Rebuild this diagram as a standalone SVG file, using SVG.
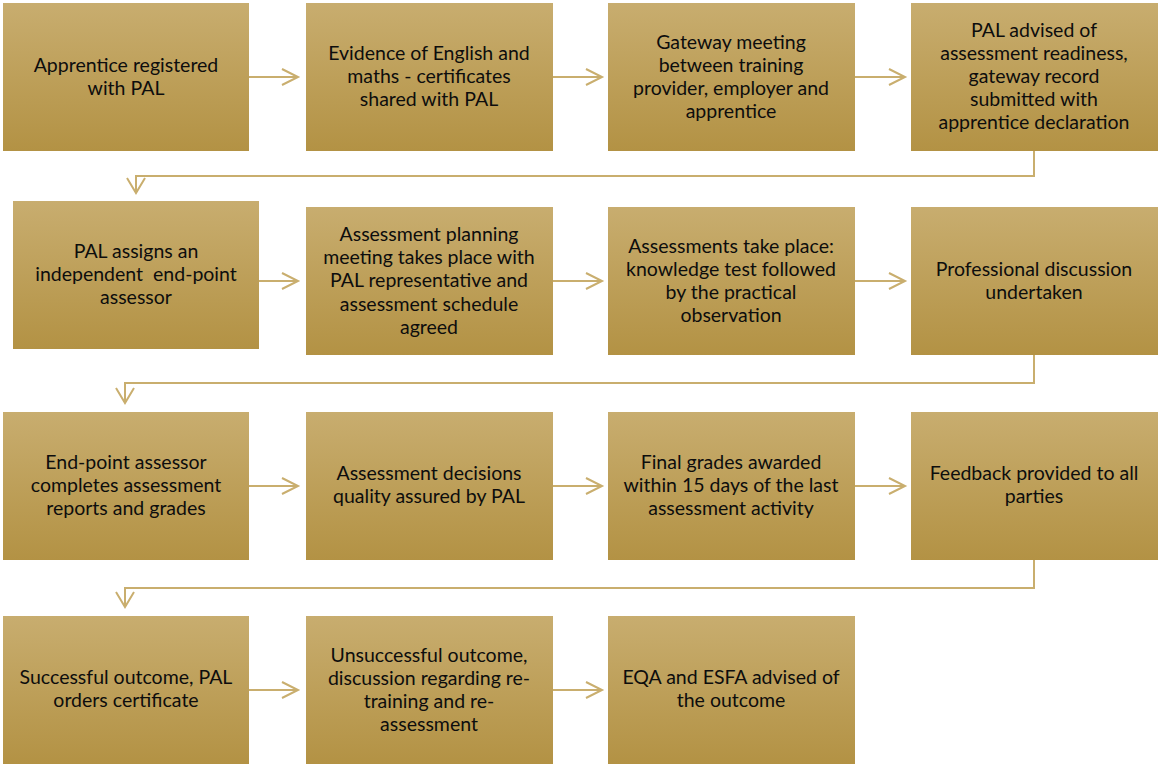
<svg xmlns="http://www.w3.org/2000/svg" width="1160" height="764" viewBox="0 0 1160 764">
<defs>
<linearGradient id="g" x1="0" y1="0" x2="0" y2="1">
<stop offset="0" stop-color="#C8AD6F"/>
<stop offset="1" stop-color="#B39244"/>
</linearGradient>
</defs>
<style>
.box{fill:url(#g)}
.t{font-family:Lato,"Open Sans",sans-serif;font-size:19.5px;fill:#0d0d0d;text-anchor:middle}
.c{fill:none;stroke:#C9AE6E;stroke-width:2}
</style>
<rect width="1160" height="764" fill="#fff"/>
<g id="connectors">
<path class="c" d="M249 77H298M282 69L298 77L282 85"/>
<path class="c" d="M553 77H602M586 69L602 77L586 85"/>
<path class="c" d="M855 77H905M889 69L905 77L889 85"/>
<path class="c" d="M1034 151V176H136V193M127 178L136 193L145 178"/>
<path class="c" d="M259 281H298M282 273L298 281L282 289"/>
<path class="c" d="M553 281H602M586 273L602 281L586 289"/>
<path class="c" d="M855 281H905M889 273L905 281L889 289"/>
<path class="c" d="M1034 355V383H125V403M116 388L125 403L134 388"/>
<path class="c" d="M249 486H298M282 478L298 486L282 494"/>
<path class="c" d="M553 486H602M586 478L602 486L586 494"/>
<path class="c" d="M855 486H905M889 478L905 486L889 494"/>
<path class="c" d="M1034 560V588H125V607M116 592L125 607L134 592"/>
<path class="c" d="M249 690H298M282 682L298 690L282 698"/>
<path class="c" d="M553 690H602M586 682L602 690L586 698"/>
</g>
<g id="n1"><rect class="box" x="3" y="3" width="246" height="148"/>
<text class="t"><tspan x="126" y="72">Apprentice registered</tspan><tspan x="126" y="95">with PAL</tspan></text></g>
<g id="n2"><rect class="box" x="306" y="3" width="247" height="148"/>
<text class="t"><tspan x="429" y="60">Evidence of English and</tspan><tspan x="429" y="83">maths - certificates</tspan><tspan x="429" y="106">shared with PAL</tspan></text></g>
<g id="n3"><rect class="box" x="608" y="3" width="247" height="148"/>
<text class="t"><tspan x="731" y="49">Gateway meeting</tspan><tspan x="731" y="72">between training</tspan><tspan x="731" y="95">provider, employer and</tspan><tspan x="731" y="118">apprentice</tspan></text></g>
<g id="n4"><rect class="box" x="911" y="3" width="247" height="148"/>
<text class="t"><tspan x="1034" y="37">PAL advised of</tspan><tspan x="1034" y="60">assessment readiness,</tspan><tspan x="1034" y="83">gateway record</tspan><tspan x="1034" y="106">submitted with</tspan><tspan x="1034" y="129">apprentice declaration</tspan></text></g>
<g id="n5"><rect class="box" x="13" y="201" width="246" height="148"/>
<text class="t" xml:space="preserve"><tspan x="136" y="258">PAL assigns an</tspan><tspan x="136" y="281">independent  end-point</tspan><tspan x="136" y="304">assessor</tspan></text></g>
<g id="n6"><rect class="box" x="306" y="207" width="247" height="148"/>
<text class="t"><tspan x="429" y="241">Assessment planning</tspan><tspan x="429" y="264">meeting takes place with</tspan><tspan x="429" y="287">PAL representative and</tspan><tspan x="429" y="311">assessment schedule</tspan><tspan x="429" y="334">agreed</tspan></text></g>
<g id="n7"><rect class="box" x="608" y="207" width="247" height="148"/>
<text class="t"><tspan x="731" y="253">Assessments take place:</tspan><tspan x="731" y="276">knowledge test followed</tspan><tspan x="731" y="299">by the practical</tspan><tspan x="731" y="322">observation</tspan></text></g>
<g id="n8"><rect class="box" x="911" y="207" width="247" height="148"/>
<text class="t"><tspan x="1034" y="276">Professional discussion</tspan><tspan x="1034" y="299">undertaken</tspan></text></g>
<g id="n9"><rect class="box" x="3" y="412" width="246" height="148"/>
<text class="t"><tspan x="126" y="469">End-point assessor</tspan><tspan x="126" y="492">completes assessment</tspan><tspan x="126" y="515">reports and grades</tspan></text></g>
<g id="n10"><rect class="box" x="306" y="412" width="247" height="148"/>
<text class="t"><tspan x="429" y="480">Assessment decisions</tspan><tspan x="429" y="503">quality assured by PAL</tspan></text></g>
<g id="n11"><rect class="box" x="608" y="412" width="247" height="148"/>
<text class="t"><tspan x="731" y="469">Final grades awarded</tspan><tspan x="731" y="492">within 15 days of the last</tspan><tspan x="731" y="515">assessment activity</tspan></text></g>
<g id="n12"><rect class="box" x="911" y="412" width="247" height="148"/>
<text class="t"><tspan x="1034" y="480">Feedback provided to all</tspan><tspan x="1034" y="503">parties</tspan></text></g>
<g id="n13"><rect class="box" x="3" y="616" width="246" height="148"/>
<text class="t"><tspan x="126" y="684">Successful outcome, PAL</tspan><tspan x="126" y="707">orders certificate</tspan></text></g>
<g id="n14"><rect class="box" x="306" y="616" width="247" height="148"/>
<text class="t"><tspan x="429" y="662">Unsuccessful outcome,</tspan><tspan x="429" y="685">discussion regarding re-</tspan><tspan x="429" y="708">training and re-</tspan><tspan x="429" y="731">assessment</tspan></text></g>
<g id="n15"><rect class="box" x="608" y="616" width="247" height="148"/>
<text class="t"><tspan x="731" y="684">EQA and ESFA advised of</tspan><tspan x="731" y="707">the outcome</tspan></text></g>
</svg>
